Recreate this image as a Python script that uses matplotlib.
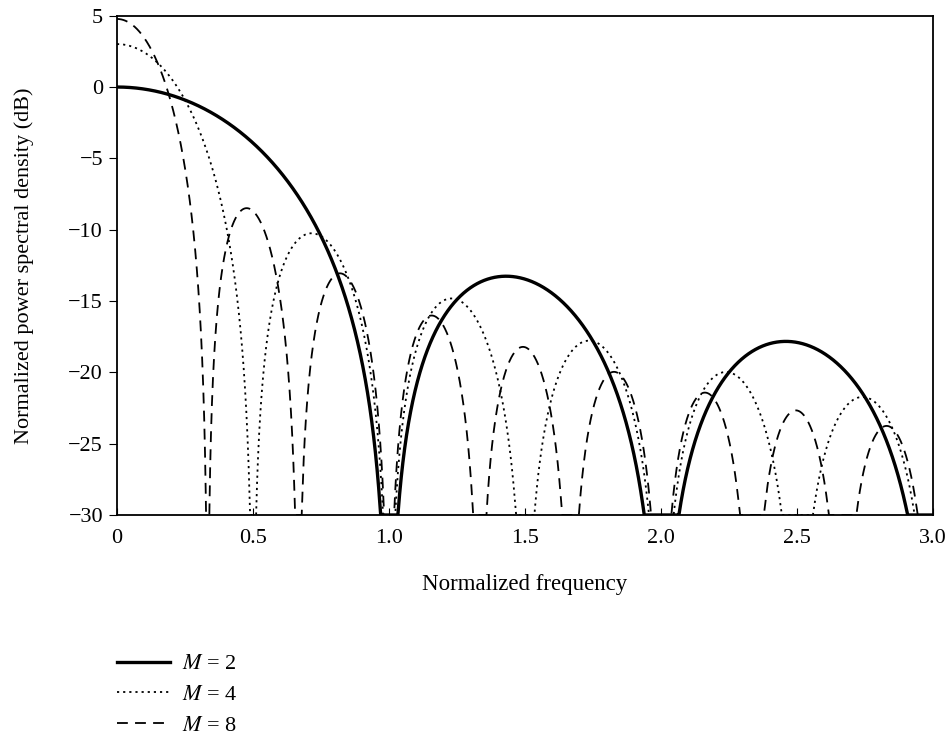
import numpy as np
import matplotlib
matplotlib.use("Agg")
import matplotlib.pyplot as plt
from matplotlib.lines import Line2D

plt.rcParams['font.family'] = ['Liberation Serif', 'DejaVu Serif']
plt.rcParams['mathtext.fontset'] = 'stix'

# Data: modulation orders and PSD of M-PSK vs normalized frequency
orders = [2, 4, 8]
labels = [r'$M$ = 2', r'$M$ = 4', r'$M$ = 8']
x_ticks = [0, 0.5, 1.0, 1.5, 2.0, 2.5, 3.0]
x_tick_labels = ['0', '0.5', '1.0', '1.5', '2.0', '2.5', '3.0']
y_ticks = [5, 0, -5, -10, -15, -20, -25, -30]
y_tick_labels = ['5', '0', '\u22125', '\u221210', '\u221215', '\u221220', '\u221225', '\u221230']

freq = np.linspace(0, 3.0, 6001)

def psd_db(M, f):
    k = np.log2(M)
    s = k * np.sinc(k * f) ** 2
    with np.errstate(divide='ignore'):
        d = 10 * np.log10(s)
    return np.maximum(d, -30)

W, H = 951, 738
fig = plt.figure(figsize=(W / 100, H / 100), dpi=100)
left, right, top, bottom = 117, 933, 15.7, 515
ax = fig.add_axes([left / W, 1 - bottom / H, (right - left) / W, (bottom - top) / H])

styles = [dict(color='black', lw=2.4, ls='-'),
          dict(color='black', lw=1.3, ls=(0, (1.2, 2.2))),
          dict(color='black', lw=1.3, ls=(0, (6, 4)))]

for M, st in zip(orders, styles):
    ax.plot(freq, psd_db(M, freq), solid_capstyle='butt', **st, clip_on=True)

FS = 16
ax.set_xlim(0, 3.0)
ax.set_ylim(-30, 5)
ax.set_xticks(x_ticks)
ax.set_xticklabels(x_tick_labels, fontsize=FS)
ax.set_yticks(y_ticks)
ax.set_yticklabels(y_tick_labels, fontsize=FS)
ax.tick_params(axis='x', direction='in', length=5, pad=10)
ax.tick_params(axis='y', direction='out', length=6, pad=4)
for sp in ax.spines.values():
    sp.set_linewidth(1.3)

ax.set_xlabel('Normalized frequency', fontsize=FS + 0.5, labelpad=19)
ax.set_ylabel('Normalized power spectral density (dB)', fontsize=FS, labelpad=25)

handles = [Line2D([0], [0], **st) for st in styles]
fig.legend(handles, labels, loc='upper left', bbox_to_anchor=(108 / W, 1 - 645 / H),
           frameon=False, fontsize=FS, handlelength=2.4, handletextpad=0.55,
           labelspacing=0.45, borderaxespad=0)

fig.savefig('out.png', dpi=100)
